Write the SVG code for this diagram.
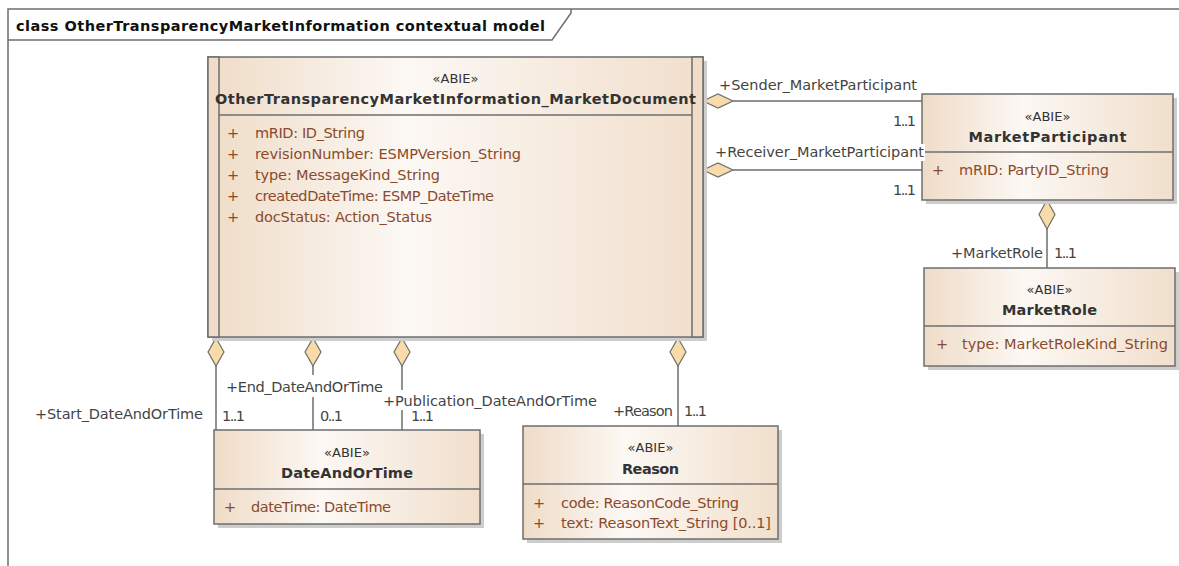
<svg xmlns="http://www.w3.org/2000/svg" width="1179" height="566" viewBox="0 0 1179 566">
<defs>
<linearGradient id="g" x1="0" y1="0" x2="1" y2="0">
<stop offset="0" stop-color="#efdcc7"/>
<stop offset="0.4" stop-color="#fcf8f4"/>
<stop offset="1" stop-color="#f1dfcc"/>
</linearGradient>
</defs>
<style>
.frame{fill:none;stroke:#6e6e6e;stroke-width:1.5}
.box{fill:url(#g);stroke:#6e6e6e;stroke-width:1.5}
.band{fill:#f0dcc8;stroke:#6e6e6e;stroke-width:1.5}
.sh{fill:#cdcdcd}
.sep{stroke:#6e6e6e;stroke-width:1.5}
.title{font-family:'DejaVu Sans',sans-serif;font-weight:bold;font-size:14.5px;fill:#111}
.st{font-family:'DejaVu Sans',sans-serif;font-size:13px;fill:#333;text-anchor:middle}
.nm{font-family:'DejaVu Sans',sans-serif;font-weight:bold;font-size:14.5px;fill:#333;text-anchor:middle}
.at{font-family:'DejaVu Sans',sans-serif;font-size:14.5px;fill:#8b4a2b}
.lb{font-family:'DejaVu Sans',sans-serif;font-size:14.5px;fill:#444}
.ln{stroke:#6e6e6e;stroke-width:1.5;fill:none}
.dm{fill:#f8dba9;stroke:#6e6e6e;stroke-width:1.2}
.bg{fill:#ffffff}
</style>
<rect width="1179" height="566" fill="#ffffff"/>
<g id="frame">
<path class="frame" d="M8,566 V9 H1179"/>
<path class="frame" d="M8,40 H552 L571,13 V9"/>
<text class="title" x="16" y="31" textLength="529">class OtherTransparencyMarketInformation contextual model</text>
</g>

<g id="connectors">
<line class="ln" x1="733" y1="101" x2="922" y2="101"/>
<polygon class="dm" points="703,101 718,94 733,101 718,108"/>
<line class="ln" x1="733" y1="170" x2="922" y2="170"/>
<polygon class="dm" points="703,170 718,163 733,170 718,177"/>
<line class="ln" x1="1047" y1="229" x2="1047" y2="268"/>
<polygon class="dm" points="1047,200 1055,214.5 1047,229 1039,214.5"/>
<line class="ln" x1="216" y1="366" x2="216" y2="430"/>
<polygon class="dm" points="216,338 224,352 216,366 208,352"/>
<line class="ln" x1="313" y1="366" x2="313" y2="430"/>
<polygon class="dm" points="313,338 321,352 313,366 305,352"/>
<line class="ln" x1="402" y1="366" x2="402" y2="430"/>
<polygon class="dm" points="402,338 410,352 402,366 394,352"/>
<line class="ln" x1="678" y1="366" x2="678" y2="426"/>
<polygon class="dm" points="678,338 686,352 678,366 670,352"/>
</g>

<g id="MainDocument">
<rect class="sh" x="212" y="61" width="495" height="280"/>
<rect class="box" x="208" y="57" width="495" height="280"/>
<rect class="band" x="208" y="57" width="11" height="280"/>
<rect class="band" x="692" y="57" width="11" height="280"/>
<line class="sep" x1="219" y1="115" x2="692" y2="115"/>
<text class="st" x="455.5" y="83">«ABIE»</text>
<text class="nm" x="455.5" y="104" textLength="481">OtherTransparencyMarketInformation_MarketDocument</text>
<text class="at" x="227" y="138">+</text><text class="at" x="255" y="138" textLength="110">mRID: ID_String</text>
<text class="at" x="227" y="159">+</text><text class="at" x="255" y="159" textLength="266">revisionNumber: ESMPVersion_String</text>
<text class="at" x="227" y="180">+</text><text class="at" x="255" y="180" textLength="185">type: MessageKind_String</text>
<text class="at" x="227" y="201">+</text><text class="at" x="255" y="201" textLength="239">createdDateTime: ESMP_DateTime</text>
<text class="at" x="227" y="222">+</text><text class="at" x="255" y="222" textLength="177">docStatus: Action_Status</text>
</g>

<g id="MarketParticipant">
<rect class="sh" x="926" y="98" width="251" height="106"/>
<rect class="box" x="922" y="94" width="251" height="106"/>
<line class="sep" x1="922" y1="152" x2="1173" y2="152"/>
<text class="st" x="1047.5" y="121">«ABIE»</text>
<text class="nm" x="1047.5" y="142" textLength="158">MarketParticipant</text>
<text class="at" x="932" y="175">+</text><text class="at" x="959" y="175" textLength="150">mRID: PartyID_String</text>
</g>

<g id="MarketRole">
<rect class="sh" x="928" y="272" width="251" height="98"/>
<rect class="box" x="924" y="268" width="251" height="98"/>
<line class="sep" x1="924" y1="326" x2="1175" y2="326"/>
<text class="st" x="1049.5" y="294">«ABIE»</text>
<text class="nm" x="1049.5" y="315" textLength="95">MarketRole</text>
<text class="at" x="936" y="349">+</text><text class="at" x="962" y="349" textLength="206">type: MarketRoleKind_String</text>
</g>

<g id="DateAndOrTime">
<rect class="sh" x="218" y="434" width="266" height="94"/>
<rect class="box" x="214" y="430" width="266" height="94"/>
<line class="sep" x1="214" y1="489" x2="480" y2="489"/>
<text class="st" x="347" y="457">«ABIE»</text>
<text class="nm" x="347" y="478" textLength="132">DateAndOrTime</text>
<text class="at" x="224" y="512">+</text><text class="at" x="251" y="512" textLength="140">dateTime: DateTime</text>
</g>

<g id="Reason">
<rect class="sh" x="527" y="430" width="255" height="113"/>
<rect class="box" x="523" y="426" width="255" height="113"/>
<line class="sep" x1="523" y1="484" x2="778" y2="484"/>
<text class="st" x="650.5" y="452">«ABIE»</text>
<text class="nm" x="650.5" y="474" textLength="57">Reason</text>
<text class="at" x="533" y="508">+</text><text class="at" x="561" y="508" textLength="178">code: ReasonCode_String</text>
<text class="at" x="533" y="528">+</text><text class="at" x="561" y="528" textLength="210">text: ReasonText_String [0..1]</text>
</g>

<g id="labels">
<text class="lb" x="719" y="90" textLength="198">+Sender_MarketParticipant</text>
<text class="lb" x="893" y="126" textLength="23">1..1</text>
<rect class="bg" x="713" y="144" width="212" height="17"/>
<text class="lb" x="715" y="157" textLength="209">+Receiver_MarketParticipant</text>
<text class="lb" x="893" y="195" textLength="23">1..1</text>
<text class="lb" x="951" y="258" textLength="92">+MarketRole</text>
<text class="lb" x="1054" y="258" textLength="23">1..1</text>
<text class="lb" x="35" y="419" textLength="168">+Start_DateAndOrTime</text>
<text class="lb" x="222" y="421" textLength="23">1..1</text>
<rect class="bg" x="381" y="390" width="218" height="20"/>
<text class="lb" x="383" y="406" textLength="214">+Publication_DateAndOrTime</text>
<rect class="bg" x="224" y="375" width="161" height="22"/>
<text class="lb" x="226" y="392" textLength="157">+End_DateAndOrTime</text>
<text class="lb" x="320" y="421" textLength="23">0..1</text>
<text class="lb" x="411" y="421" textLength="23">1..1</text>
<text class="lb" x="613" y="416" textLength="60">+Reason</text>
<text class="lb" x="684" y="416" textLength="23">1..1</text>
</g>
</svg>
